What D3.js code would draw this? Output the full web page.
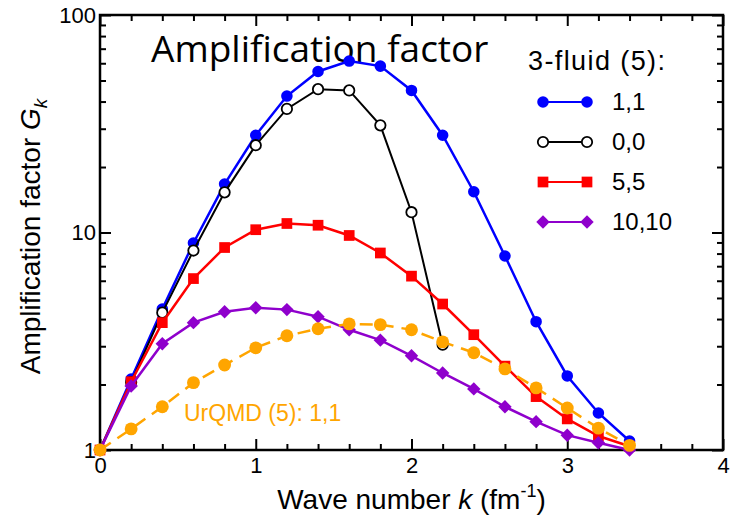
<!DOCTYPE html>
<html>
<head>
<meta charset="utf-8">
<script src="https://cdn.jsdelivr.net/npm/d3@7"></script>
<style>
  body { margin: 0; background: #fff; }
  svg { display: block; font-family: "Liberation Sans", Arial, sans-serif; }
</style>
</head>
<body>
<svg></svg>
<script>
const w = 730
const h = 519
const svg = d3.select("svg").attr("width", w).attr("height", h)

// wave number k (fm^-1)
const kValues = [0, 0.2, 0.4, 0.6, 0.8, 1.0, 1.2, 1.4, 1.6, 1.8, 2.0, 2.2, 2.4, 2.6, 2.8, 3.0, 3.2, 3.4]

// amplification factor G_k
const fluid11 = [1, 2.12, 4.45, 8.95, 16.7, 28, 42.4, 55, 61.4, 58.2, 45, 28, 15.4, 7.8, 3.89, 2.19, 1.48, 1.1]
const fluid00 = [1, 2.05, 4.28, 8.26, 15.3, 25.2, 37, 45.6, 45, 31.1, 12.4, 3.05]
const fluid55 = [1, 2.06, 3.85, 6.14, 8.53, 10.3, 11.0, 10.8, 9.69, 8.05, 6.3, 4.69, 3.39, 2.43, 1.76, 1.39, 1.16, 1.04]
const fluid1010 = [1, 1.97, 3.08, 3.85, 4.32, 4.51, 4.42, 4.1, 3.57, 3.2, 2.71, 2.26, 1.91, 1.58, 1.35, 1.17, 1.08, 1.0]
const urqmd11 = [1, 1.25, 1.58, 2.04, 2.46, 2.95, 3.35, 3.61, 3.8, 3.77, 3.57, 3.14, 2.8, 2.36, 1.93, 1.56, 1.26, 1.05]

const xMajor = [0, 1, 2, 3, 4]
const yMajor = [1, 10, 100]
const legendLabels = ["1,1", "0,0", "5,5", "10,10"]

const plotLeft = 100, plotRight = 723, plotTop = 15, plotBottom = 450

const x = d3.scaleLinear().domain([0, 4]).range([plotLeft, plotRight])
const y = d3.scaleLog().domain([1, 100]).range([plotBottom, plotTop])

const xMinor = d3.range(0, 4.01, 0.2).filter(v => Math.abs(v - Math.round(v)) > 0.01)
const yMinor = [2, 3, 4, 5, 6, 7, 8, 9, 20, 30, 40, 50, 60, 70, 80, 90]

//ticks, all pointing inward
const axisGroup = (axis, tx, ty) => {
    const g = svg.append("g")
        .attr("transform", `translate(${tx},${ty})`)
        .call(axis)
    g.select(".domain").remove()
    g.selectAll("line").attr("stroke", "#000").attr("stroke-width", 2)
    return g
}

axisGroup(d3.axisBottom(x).tickValues(xMajor).tickSize(-11).tickPadding(7).tickFormat(d => d), 0, plotBottom)
axisGroup(d3.axisBottom(x).tickValues(xMinor).tickSize(-6).tickFormat(""), 0, plotBottom)
axisGroup(d3.axisTop(x).tickValues(xMajor).tickSize(-11).tickFormat(""), 0, plotTop)
axisGroup(d3.axisTop(x).tickValues(xMinor).tickSize(-6).tickFormat(""), 0, plotTop)

axisGroup(d3.axisLeft(y).tickValues(yMajor).tickSize(-11).tickPadding(4).tickFormat(d => d), plotLeft, 0)
axisGroup(d3.axisLeft(y).tickValues(yMinor).tickSize(-6).tickFormat(""), plotLeft, 0)
axisGroup(d3.axisRight(y).tickValues(yMajor).tickSize(-11).tickFormat(""), plotRight, 0)
axisGroup(d3.axisRight(y).tickValues(yMinor).tickSize(-6).tickFormat(""), plotRight, 0)

svg.selectAll(".tick text")
    .attr("font-family", '"Liberation Sans", Arial, sans-serif')
    .attr("font-size", 22)
    .attr("fill", "#000")

svg.append("rect")
    .attr("x", plotLeft).attr("y", plotTop)
    .attr("width", plotRight - plotLeft).attr("height", plotBottom - plotTop)
    .attr("fill", "none").attr("stroke", "#000").attr("stroke-width", 2.5)

// axis titles
const xTitle = svg.append("text")
    .attr("x", (plotLeft + plotRight) / 2).attr("y", 509)
    .attr("text-anchor", "middle").attr("font-size", 28)
xTitle.append("tspan").text("Wave number ")
xTitle.append("tspan").attr("font-style", "italic").text("k")
xTitle.append("tspan").text(" (fm")
xTitle.append("tspan").attr("font-size", 18).attr("dy", -12).text("-1")
xTitle.append("tspan").attr("dy", 12).text(")")

const yTitle = svg.append("text")
    .attr("transform", `translate(40,${(plotTop + plotBottom) / 2 + 4}) rotate(-90)`)
    .attr("text-anchor", "middle").attr("font-size", 28)
yTitle.append("tspan").text("Amplification factor ")
yTitle.append("tspan").attr("font-style", "italic").text("G")
yTitle.append("tspan").attr("font-style", "italic").attr("font-size", 19).attr("dy", 7).text("k")

svg.append("text")
    .attr("x", 151).attr("y", 62)
    .attr("font-family", '"Open Sans", sans-serif')
    .attr("font-size", 37)
    .text("Amplification factor")

// series
const series = [
    { name: "1,1", values: fluid11, color: "#0000ff", marker: "circle", width: 2.5 },
    { name: "0,0", values: fluid00, color: "#000000", marker: "open", width: 2 },
    { name: "5,5", values: fluid55, color: "#ff0000", marker: "square", width: 2.5 },
    { name: "10,10", values: fluid1010, color: "#8f00cc", marker: "diamond", width: 2.5 },
    { name: "UrQMD", values: urqmd11, color: "#ffa500", marker: "big", width: 2.5, dash: "13,8" }
]

const symbolPath = {
    circle: d3.symbol().type(d3.symbolCircle).size(105)(),
    open: d3.symbol().type(d3.symbolCircle).size(85)(),
    square: d3.symbol().type(d3.symbolSquare).size(115)(),
    diamond: d3.symbol().type(d3.symbolSquare).size(90)(),
    big: d3.symbol().type(d3.symbolCircle).size(130)()
}

const drawMarker = (g, s, px, py) => {
    const m = g.append("path")
        .attr("d", symbolPath[s.marker])
        .attr("transform", `translate(${px},${py})` + (s.marker === "diamond" ? " rotate(45)" : ""))
    if (s.marker === "open") {
        m.attr("fill", "#fff").attr("stroke", s.color).attr("stroke-width", 1.8)
    } else {
        m.attr("fill", s.color)
    }
}

const line = d3.line().x(d => x(d[0])).y(d => y(d[1]))

series.forEach(s => {
    const pts = s.values.map((v, i) => [kValues[i], v])
    const g = svg.append("g")
    g.append("path")
        .attr("d", line(pts))
        .attr("fill", "none")
        .attr("stroke", s.color)
        .attr("stroke-width", s.width)
        .attr("stroke-dasharray", s.dash || null)
    pts.forEach(p => drawMarker(g, s, x(p[0]), y(p[1])))
})

svg.append("text")
    .attr("x", 184).attr("y", 421)
    .attr("font-size", 23)
    .attr("fill", "#ffa500")
    .text("UrQMD (5): 1,1")

// legend
svg.append("text")
    .attr("x", 528).attr("y", 70)
    .attr("font-size", 27)
    .attr("letter-spacing", 1.4)
    .text("3-fluid (5):")

legendLabels.forEach((lab, i) => {
    const s = series[i]
    const ly = 102 + i * 40
    const g = svg.append("g")
    g.append("line")
        .attr("x1", 543).attr("x2", 587)
        .attr("y1", ly).attr("y2", ly)
        .attr("stroke", s.color).attr("stroke-width", 2.2)
    drawMarker(g, s, 543, ly)
    drawMarker(g, s, 587, ly)
    g.append("text")
        .attr("x", 612).attr("y", ly + 8)
        .attr("font-size", 24)
        .text(lab)
})
</script>
</body>
</html>
